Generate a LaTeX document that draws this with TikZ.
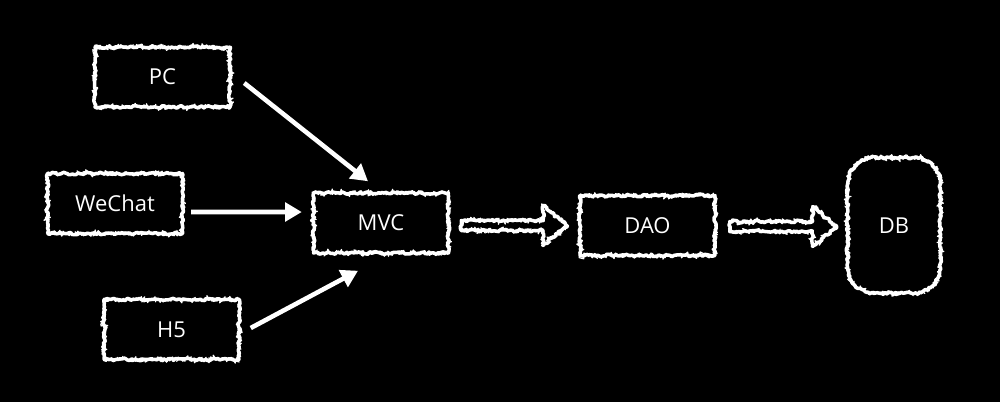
\documentclass[tikz,border=0pt]{standalone}
\usepackage{fontspec}
\setmainfont{Open Sans}
\usetikzlibrary{decorations.pathmorphing,arrows.meta,calc}
\begin{document}
\begin{tikzpicture}[x=0.02cm,y=-0.02cm,
  chalk/.style={draw=white, line width=2pt, line join=round, decorate,
    decoration={random steps,segment length=1.1pt,amplitude=0.7pt},
    postaction={draw=white, line width=0.7pt, decorate,
      decoration={random steps,segment length=0.6pt,amplitude=1.6pt}}},
  box/.style={chalk, minimum width=2.7cm, minimum height=1.2cm, inner sep=0pt,
    text=white, font=\fontsize{12.5}{14}\selectfont},
  dbbox/.style={minimum width=1.84cm, minimum height=2.7cm, inner sep=0pt,
    text=white, font=\fontsize{12.5}{14}\selectfont},
  plain/.style={draw=white, line width=2.6pt, -{Triangle[length=9.5pt,width=10.5pt]}}]
\fill[black] (0,0) rectangle (1000,402);
\useasboundingbox (0,0) rectangle (1000,402);

\node[box] (pc) at (162.5,77) {PC};
\node[box] (wechat) at (115,203.5) {WeChat};
\node[box] (h5) at (171.5,329.5) {H5};
\node[box] (mvc) at (381,223) {MVC};
\node[box] (dao) at (647.5,225.5) {DAO};
\node[dbbox] (db) at (894,225.5) {DB};
\draw[chalk] ($(db.north west)+(26,0)$) -- ($(db.north east)+(-26,0)$)
  .. controls ($(db.north east)+(-12,0)$) and ($(db.north east)+(0,12)$) .. ($(db.north east)+(0,26)$)
  -- ($(db.south east)+(0,-26)$)
  .. controls ($(db.south east)+(0,-12)$) and ($(db.south east)+(-12,0)$) .. ($(db.south east)+(-26,0)$)
  -- ($(db.south west)+(26,0)$)
  .. controls ($(db.south west)+(12,0)$) and ($(db.south west)+(0,-12)$) .. ($(db.south west)+(0,-26)$)
  -- ($(db.north west)+(0,26)$)
  .. controls ($(db.north west)+(0,12)$) and ($(db.north west)+(12,0)$) .. cycle;

\draw[plain] ($(pc.east)+(12.5,6)$) -- ($(mvc.north)+(-13,-10)$);
\draw[plain] ($(wechat.east)+(7,8.5)$) -- ($(mvc.west)+(-10,-11)$);
\draw[plain] ($(h5.east)+(10,-1.5)$) -- ($(mvc.south)+(-23,16)$);

\coordinate (s1) at ($(mvc.east)+(11,2.5)$);
\coordinate (t1) at ($(dao.west)+(-11,0)$);
\draw[chalk] ($(s1)+(0,-5)$) -- ($(t1)+(-24,-5)$) -- ($(t1)+(-24,-20)$) -- (t1)
  -- ($(t1)+(-24,20)$) -- ($(t1)+(-24,5)$) -- ($(s1)+(0,5)$) -- cycle;

\coordinate (s2) at ($(dao.east)+(13,1)$);
\coordinate (t2) at ($(db.west)+(-11,1)$);
\draw[chalk] ($(s2)+(0,-5)$) -- ($(t2)+(-24,-5)$) -- ($(t2)+(-24,-20)$) -- (t2)
  -- ($(t2)+(-24,20)$) -- ($(t2)+(-24,5)$) -- ($(s2)+(0,5)$) -- cycle;
\end{tikzpicture}
\end{document}
